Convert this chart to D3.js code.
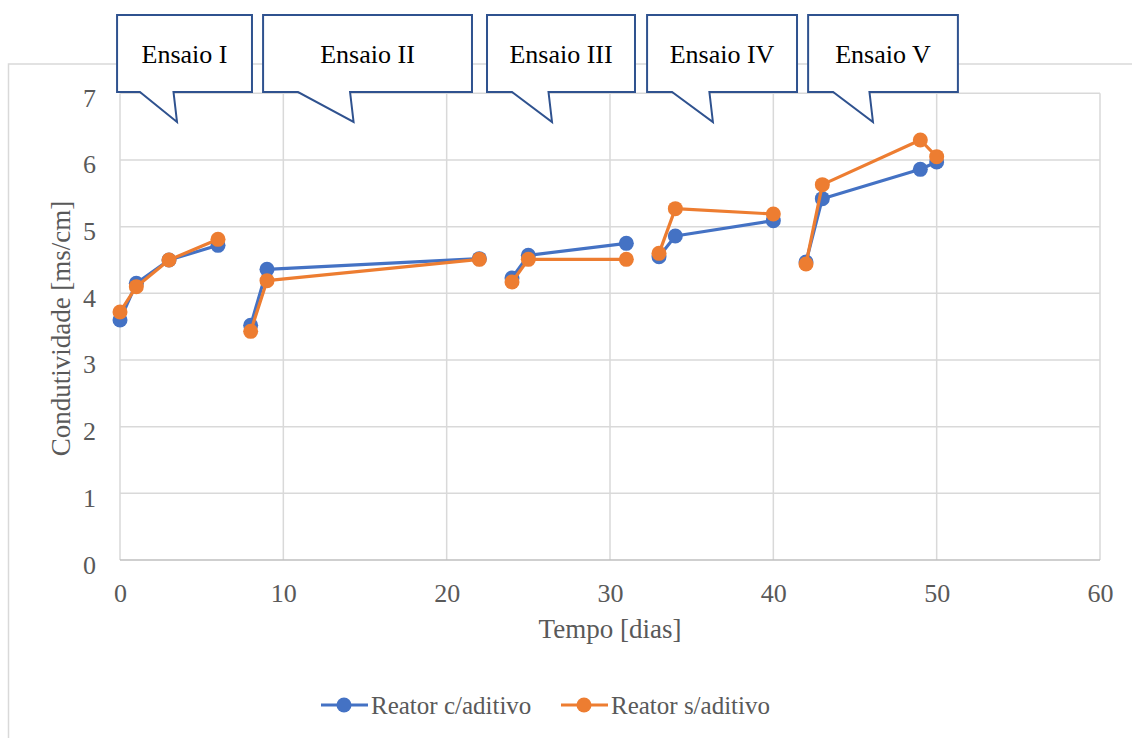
<!DOCTYPE html>
<html>
<head>
<meta charset="utf-8">
<script src="https://cdn.jsdelivr.net/npm/d3@7"></script>
<style>
  html, body { margin: 0; padding: 0; background: #fff; }
  svg { display: block; }
  text { font-family: "Liberation Serif", "Times New Roman", serif; }
</style>
</head>
<body>
<svg id="chart" width="1132" height="738"></svg>
<script>
// ---- Data ----
const dias       = [0, 1, 3, 6, 8, 9, 22, 24, 25, 31, 33, 34, 40, 42, 43, 49, 50];
const ensaio     = [1, 1, 1, 1, 2, 2, 2, 3, 3, 3, 4, 4, 4, 5, 5, 5, 5];
const comAditivo = [3.60, 4.15, 4.50, 4.72, 3.52, 4.36, 4.52, 4.23, 4.57, 4.75, 4.55, 4.86, 5.09, 4.47, 5.42, 5.86, 5.97];
const semAditivo = [3.72, 4.10, 4.50, 4.81, 3.43, 4.19, 4.51, 4.17, 4.51, 4.51, 4.60, 5.27, 5.19, 4.44, 5.63, 6.30, 6.05];
const seriesNames = ["Reator c/aditivo", "Reator s/aditivo"];
const xTicks = [0, 10, 20, 30, 40, 50, 60];
const yTicks = [0, 1, 2, 3, 4, 5, 6, 7];

// Callout annotations (in data units)
const calloutLabels = ["Ensaio I", "Ensaio II", "Ensaio III", "Ensaio IV", "Ensaio V"];
const calloutLeft   = [-0.18, 8.76, 22.47, 32.27, 42.13];
const calloutRight  = [8.08, 21.55, 31.53, 41.45, 51.30];
const calloutTailL  = [1.22, 10.90, 24.00, 33.80, 43.66];
const calloutTip    = [3.49, 14.30, 26.45, 36.30, 46.10];
const calloutTop = 8.175, calloutBottom = 7.02, calloutTipY = 6.57;

// ---- Layout ----
const svg = d3.select("#chart");
const x = d3.scaleLinear().domain([0, 60]).range([120, 1100]);
const y = d3.scaleLinear().domain([0, 7]).range([560, 93.33]);
const colors = ["#4472C4", "#ED7D31"];
const gridColor = "#d9d9d9";
const textColor = "#595959";
const serif = '"Liberation Serif", "Times New Roman", serif';

// chart area border
svg.append("rect")
  .attr("x", 8.5).attr("y", 64).attr("width", 1300).attr("height", 900)
  .attr("fill", "none").attr("stroke", gridColor).attr("stroke-width", 1.5);

// gridlines
const g = svg.append("g");
g.selectAll("line.hg").data(yTicks.filter(d => d > 0)).join("line")
  .attr("x1", x(0)).attr("x2", x(60))
  .attr("y1", d => y(d)).attr("y2", d => y(d))
  .attr("stroke", gridColor).attr("stroke-width", 1.5);
g.selectAll("line.vg").data(xTicks).join("line")
  .attr("y1", y(0)).attr("y2", y(7))
  .attr("x1", d => x(d)).attr("x2", d => x(d))
  .attr("stroke", gridColor).attr("stroke-width", 1.5);
// x axis line
g.append("line").attr("x1", x(0)).attr("x2", x(60)).attr("y1", y(0)).attr("y2", y(0))
  .attr("stroke", "#bfbfbf").attr("stroke-width", 1.5);

// tick labels
const xAxis = d3.axisBottom(x).tickValues(xTicks).tickFormat(d3.format("d")).tickSize(0).tickPadding(0);
const xa = svg.append("g").attr("transform", `translate(0,${y(0)})`).call(xAxis)
  .attr("font-family", serif);
xa.select(".domain").remove();
xa.selectAll("text").attr("dy", null).attr("y", 42)
  .attr("font-size", 26).attr("fill", textColor)
  .style("font-family", serif);

const yAxis = d3.axisLeft(y).tickValues(yTicks).tickFormat(d3.format("d")).tickSize(0).tickPadding(0);
const ya = svg.append("g").attr("transform", `translate(96,0)`).call(yAxis)
  .attr("font-family", serif);
ya.select(".domain").remove();
ya.selectAll("text").attr("dy", null).attr("x", 0).attr("y", 13)
  .attr("text-anchor", "end")
  .attr("font-size", 26).attr("fill", textColor)
  .style("font-family", serif);

// axis titles
svg.append("text").attr("x", 610).attr("y", 638).attr("text-anchor", "middle")
  .attr("font-size", 27).attr("fill", textColor).text("Tempo [dias]");
svg.append("text").attr("transform", `translate(70,328.5) rotate(-90)`)
  .attr("text-anchor", "middle").attr("font-size", 27).attr("fill", textColor)
  .text("Condutividade [ms/cm]");

// series
const seriesVals = [comAditivo, semAditivo];
const line = d3.line().x(d => x(d.x)).y(d => y(d.y));
seriesVals.forEach((vals, si) => {
  const pts = dias.map((d, i) => ({ x: d, y: vals[i], e: ensaio[i] }));
  const groups = d3.groups(pts, d => d.e);
  const sg = svg.append("g");
  sg.selectAll("path").data(groups).join("path")
    .attr("d", d => line(d[1]))
    .attr("fill", "none").attr("stroke", colors[si]).attr("stroke-width", 3.2)
    .attr("stroke-linejoin", "round");
  sg.selectAll("circle").data(pts).join("circle")
    .attr("cx", d => x(d.x)).attr("cy", d => y(d.y)).attr("r", 7.5)
    .attr("fill", colors[si]);
});

// callouts
calloutLabels.forEach((lab, i) => {
  const x0 = x(calloutLeft[i]), x1 = x(calloutRight[i]);
  const t = y(calloutTop), b = y(calloutBottom);
  const tipX = x(calloutTip[i]), tipY = y(calloutTipY);
  const tl = x(calloutTailL[i]);
  const p = d3.path();
  p.moveTo(x0, t); p.lineTo(x1, t); p.lineTo(x1, b);
  p.lineTo(tipX - 3.5, b); p.lineTo(tipX, tipY); p.lineTo(tl, b);
  p.lineTo(x0, b); p.closePath();
  svg.append("path").attr("d", p.toString())
    .attr("fill", "#fff").attr("stroke", "#2F528F").attr("stroke-width", 2)
    .attr("stroke-linejoin", "miter");
  svg.append("text").attr("x", (x0 + x1) / 2).attr("y", 63)
    .attr("text-anchor", "middle").attr("font-size", 26).attr("fill", "#000")
    .text(lab);
});

// legend
const legX = [321, 561];
seriesNames.forEach((name, i) => {
  const lg = svg.append("g");
  lg.append("line").attr("x1", legX[i]).attr("x2", legX[i] + 47)
    .attr("y1", 705).attr("y2", 705).attr("stroke", colors[i]).attr("stroke-width", 3.2);
  lg.append("circle").attr("cx", legX[i] + 23).attr("cy", 705).attr("r", 7.5).attr("fill", colors[i]);
  lg.append("text").attr("x", legX[i] + 50).attr("y", 714)
    .attr("font-size", 25).attr("fill", textColor).text(name);
});
</script>
</body>
</html>
